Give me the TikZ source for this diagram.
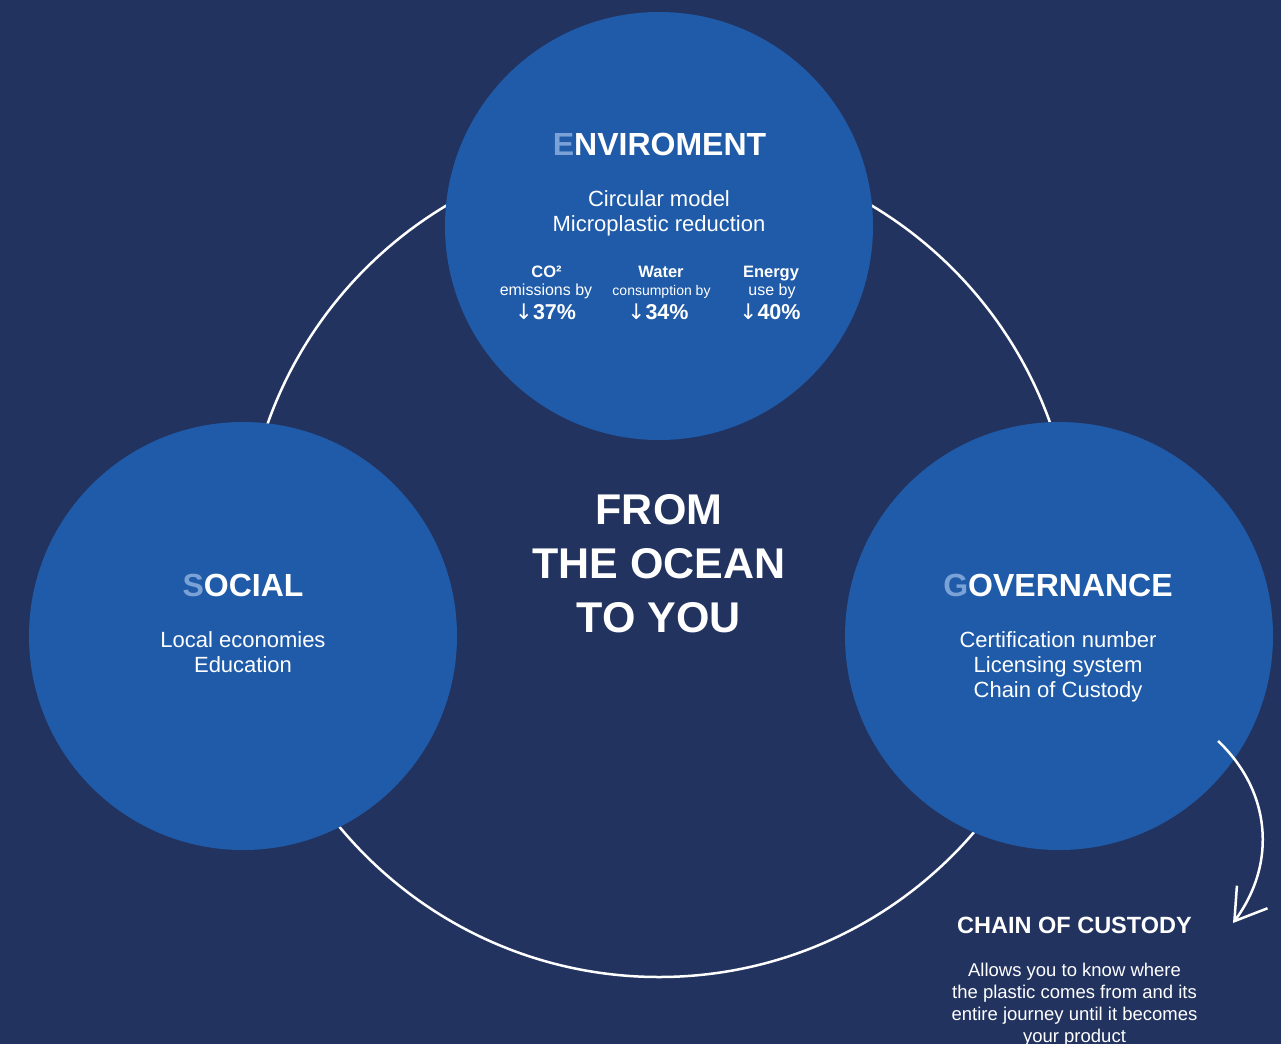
\documentclass[tikz,border=0pt]{standalone}
\usepackage{fontspec}
\setmainfont{Liberation Sans}
\newfontfamily\arrowfont{DejaVu Sans}
\usepackage{xcolor}
\usetikzlibrary{arrows.meta}

\definecolor{oceanNavy}{RGB}{34,51,96}
\definecolor{pillarBlue}{RGB}{31,91,168}
\definecolor{initialBlue}{RGB}{122,162,214}

\newcommand{\pxfont}[2]{\fontsize{#1}{#2}\selectfont}

\tikzset{
  pillar/.style={circle,fill=pillarBlue,minimum size=428pt,inner sep=0pt},
  pillarTitle/.style={anchor=base,text=white,font=\bfseries\pxfont{32}{38}},
  pillarItems/.style={align=center,text=white,font=\pxfont{22}{25}},
  statHead/.style={anchor=base,text=white,font=\bfseries\pxfont{16.5}{19}},
  statNote/.style={anchor=base,text=white,font=\pxfont{16}{19}},
  statValue/.style={anchor=base,text=white,font=\bfseries\pxfont{21.5}{25}},
}

\begin{document}
\begin{tikzpicture}[x=1pt,y=-1pt]
    \pgfmathsetmacro{\ringRadius}{415}
    \pgfmathsetmacro{\lineWidth}{2.5}

    % Hintergrund
    \fill[oceanNavy] (0,0) rectangle (1281,1044);
    \useasboundingbox (0,0) rectangle (1281,1044);

    % Kreis
    \coordinate (ringCenter) at (659,562);
    \draw[white,line width=\lineWidth pt] (ringCenter) circle[radius=\ringRadius pt];

    % Saeulen
    \node[pillar] (env) at (659,226) {};
    \node[pillar] (soc) at (243,636) {};
    \node[pillar] (gov) at (1059,636) {};

    % Umwelt
    \node[pillarTitle] (envTitle) at (659.5,155) {{\color{initialBlue}E}NVIROMENT};
    \node[pillarItems] (envItems) at (659,213) {Circular model\\Microplastic reduction};
    \node[statHead] (co2Head) at (546.5,277) {CO²};
    \node[statNote] (co2Note) at (546,295) {emissions by};
    \node[statValue] (co2Value) at (545.5,319) {{\arrowfont\mdseries ↓}37\%};
    \node[statHead] (waterHead) at (661,277) {Water};
    \node[statNote,font=\pxfont{14}{17}] (waterNote) at (661.5,295) {consumption by};
    \node[statValue] (waterValue) at (658,319) {{\arrowfont\mdseries ↓}34\%};
    \node[statHead] (energyHead) at (771,277) {Energy};
    \node[statNote] (energyNote) at (772,295) {use by};
    \node[statValue] (energyValue) at (770,319) {{\arrowfont\mdseries ↓}40\%};

    % Soziales
    \node[pillarTitle] (socTitle) at (243,596) {{\color{initialBlue}S}OCIAL};
    \node[pillarItems] (socItems) at (243,652) {Local economies\\Education};

    % Governance
    \node[pillarTitle] (govTitle) at (1058,596) {{\color{initialBlue}G}OVERNANCE};
    \node[pillarItems] (govItems) at (1058,667) {Certification number\\Licensing system\\Chain of Custody};

    % Mitte
    \node[align=center,text=white,font=\bfseries\pxfont{43}{54}] (slogan) at (659,563.5) {FROM\\THE OCEAN\\TO YOU};

    % Pfeil
    \coordinate (arrowStart) at (1218,741);
    \coordinate (arrowEnd) at (1233,923);
    \draw[white,line width=\lineWidth pt,-{Straight Barb[length=30pt,width=38pt]}] (arrowStart) .. controls (1270,790) and (1278,862) .. (arrowEnd);

    % Lieferkette
    \node[anchor=base,text=white,font=\bfseries\pxfont{23.5}{28}] (chainTitle) at (1074.5,933) {CHAIN OF CUSTODY};
    \node[align=center,text=white,font=\pxfont{18.5}{22}] (chainText) at (1074.5,1005) {Allows you to know where\\the plastic comes from and its\\entire journey until it becomes\\your product};
\end{tikzpicture}
\end{document}
